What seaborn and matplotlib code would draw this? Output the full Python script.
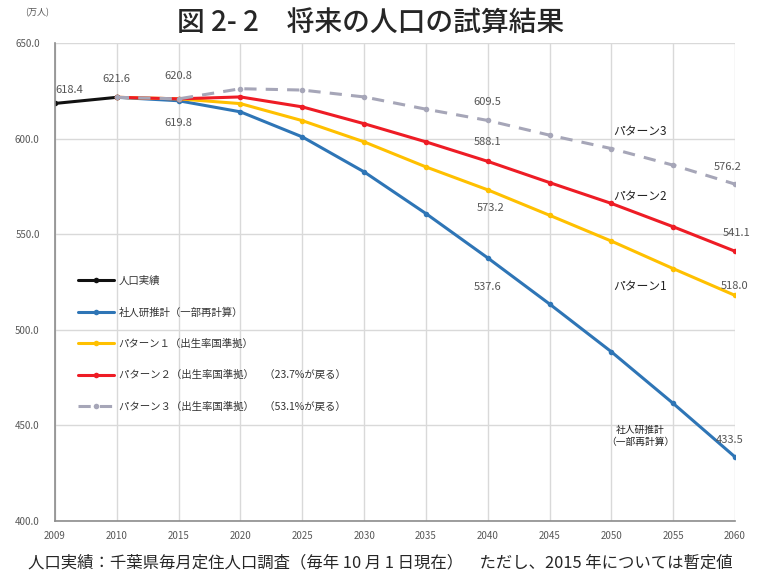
import pandas as pd
import matplotlib.pyplot as plt
import seaborn as sns

# Data (万人)
years = ['2009', '2010', '2015', '2020', '2025', '2030', '2035', '2040', '2045', '2050', '2055', '2060']
actual = [618.4, 621.6]  # 2009, 2010
ipss = [621.6, 619.8, 614.0, 600.9, 582.6, 560.8, 537.6, 513.5, 488.5, 461.5, 433.5]      # 2010-2060
pattern1 = [621.6, 620.8, 618.3, 609.4, 598.3, 585.2, 573.2, 559.9, 546.4, 532.0, 518.0]
pattern2 = [621.6, 620.8, 621.8, 616.6, 607.8, 598.3, 588.1, 577.0, 566.1, 553.9, 541.1]
pattern3 = [621.6, 620.8, 626.1, 625.4, 621.8, 615.4, 609.5, 601.8, 594.8, 586.1, 576.2]

names = ['人口実績',
         '社人研推計（一部再計算）',
         'パターン１（出生率国準拠）',
         'パターン２（出生率国準拠）　（23.7%が戻る）',
         'パターン３（出生率国準拠）　（53.1%が戻る）']
colors = ['#111111', '#2e75b6', '#ffc000', '#ee1c25', '#a6a6b8']

pos = {y: i for i, y in enumerate(years)}
rows = []
for name, vals, yrs in [(names[0], actual, years[:2]), (names[1], ipss, years[1:]),
                        (names[2], pattern1, years[1:]), (names[3], pattern2, years[1:]),
                        (names[4], pattern3, years[1:])]:
    for y, v in zip(yrs, vals):
        rows.append({'年': y, 'x': pos[y], '人口': v, '系列': name})
df = pd.DataFrame(rows)

sns.set_style('white')
plt.rcParams['font.family'] = ['Noto Sans CJK JP', 'DejaVu Sans']

fig = plt.figure(figsize=(7.6, 5.79), dpi=100)
ax = fig.add_axes([0.0724, 0.1002, 0.8947, 0.8255])

sns.lineplot(data=df, x='x', y='人口', hue='系列', style='系列', hue_order=names, style_order=names,
             palette=dict(zip(names, colors)),
             dashes={names[0]: '', names[1]: '', names[2]: '', names[3]: '', names[4]: (4, 3)},
             markers={n: 'o' for n in names}, markersize=4, markeredgewidth=0,
             linewidth=2.2, ax=ax)

ax.set_xlim(0, 11)
ax.set_ylim(400, 650)
ax.set_xticks(range(len(years)))
ax.set_xticklabels(years)
ax.set_yticks([400, 450, 500, 550, 600, 650])
ax.set_yticklabels([f'{v:.1f}' for v in [400, 450, 500, 550, 600, 650]])
ax.tick_params(axis='both', labelsize=7, colors='#595959', length=0)
ax.tick_params(axis='y', pad=11)
ax.tick_params(axis='x', pad=7)
ax.set_xlabel('')
ax.set_ylabel('')
ax.grid(True, color='#d9d9d9', linewidth=1)
for s in ['top', 'right']:
    ax.spines[s].set_visible(False)
for s in ['left', 'bottom']:
    ax.spines[s].set_color('#8c8c8c')
    ax.spines[s].set_linewidth(1.2)

# data labels
lab = dict(ha='center', va='center', fontsize=8, color='#555555', textcoords='offset pixels')
ax.annotate('618.4', (pos['2009'], actual[0]), xytext=(14, 13), **lab)
ax.annotate('621.6', (pos['2010'], actual[1]), xytext=(0, 18), **lab)
ax.annotate('620.8', (pos['2015'], pattern1[1]), xytext=(0, 23), **lab)
ax.annotate('619.8', (pos['2015'], ipss[1]), xytext=(0, -22), **lab)
ax.annotate('609.5', (pos['2040'], pattern3[6]), xytext=(0, 18), **lab)
ax.annotate('588.1', (pos['2040'], pattern2[6]), xytext=(0, 19), **lab)
ax.annotate('573.2', (pos['2040'], pattern1[6]), xytext=(3, -18), **lab)
ax.annotate('537.6', (pos['2040'], ipss[6]), xytext=(0, -29), **lab)
ax.annotate('576.2', (pos['2060'], pattern3[-1]), xytext=(-7, 17), **lab)
ax.annotate('541.1', (pos['2060'], pattern2[-1]), xytext=(2, 18), **lab)
ax.annotate('518.0', (pos['2060'], pattern1[-1]), xytext=(0, 9), **lab)
ax.annotate('433.5', (pos['2060'], ipss[-1]), xytext=(-5, 17), **lab)

# series name labels
nm = dict(ha='center', va='center', fontsize=8.5, color='#222222')
ax.text(9.47, 603.5, 'パターン3', **nm)
ax.text(9.47, 569.5, 'パターン2', **nm)
ax.text(9.47, 522.5, 'パターン1', **nm)
ax.text(9.47, 444.6, '社人研推計\n（一部再計算）', fontsize=7, linespacing=1.3,
        ha='center', va='center', color='#222222')

leg = ax.legend(loc='upper left', bbox_to_anchor=(0.02, 0.533), frameon=False, fontsize=7.5,
                labelspacing=2.05, handlelength=3.5, handletextpad=0.4, labelcolor='#333333')

fig.text(0.487, 0.962, '図 2- 2　将来の人口の試算結果', ha='center', va='center', fontsize=20,
         fontweight='medium')
fig.text(0.033, 0.978, '(万人)', ha='left', va='center', fontsize=6.5, color='#555555')
fig.text(0.5, 0.028, '人口実績：千葉県毎月定住人口調査（毎年 10 月 1 日現在）　ただし、2015 年については暫定値',
         ha='center', va='center', fontsize=11.8)

fig.savefig('out.png', dpi=100)
